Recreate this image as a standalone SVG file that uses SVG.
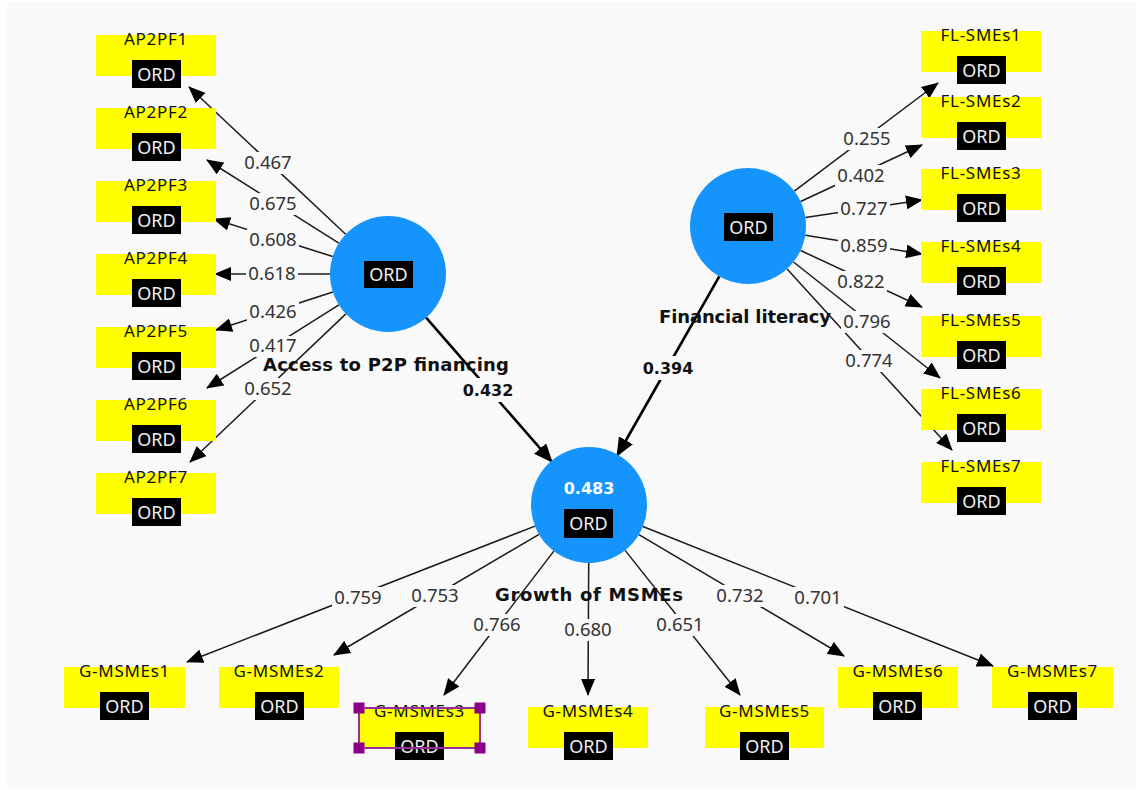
<svg xmlns="http://www.w3.org/2000/svg" width="1136" height="790" viewBox="0 0 1136 790">
<style>
.bg{fill:#f9f9f9}
.ind{fill:#ffff00}
.ordb{fill:#000}
.nm{font-family:"Noto Sans","Open Sans",sans-serif;font-size:17px;fill:#111;text-anchor:middle;letter-spacing:0.7px}
.ord{font-family:"Noto Sans","Open Sans",sans-serif;font-size:18px;fill:#eeeeee;text-anchor:middle}
.num{font-family:"Noto Sans","Open Sans",sans-serif;font-size:18.5px;fill:#333;text-anchor:middle}
.bnum{font-family:"DejaVu Sans","Noto Sans",sans-serif;font-size:16px;font-weight:bold;fill:#111;text-anchor:middle}
.cl{font-family:"DejaVu Sans","Noto Sans",sans-serif;font-size:18px;font-weight:bold;fill:#111;text-anchor:middle}
.r2{font-family:"DejaVu Sans","Noto Sans",sans-serif;font-size:16px;font-weight:bold;fill:#fff;text-anchor:middle}
.lv{fill:#1594fd}
.m{stroke:#1a1a1a;stroke-width:1.5;fill:none;marker-end:url(#ah)}
.s{stroke:#000;stroke-width:2.6;fill:none;marker-end:url(#ahs)}
.lb{fill:#f9f9f9}
.sel{fill:none;stroke:#9b2d9b;stroke-width:2}
.hd{fill:#8b008b}
</style>
<defs>
<marker id="ah" markerUnits="userSpaceOnUse" markerWidth="17" markerHeight="14" refX="16" refY="7" orient="auto"><path d="M0,0 L17,7 L0,14 z" fill="#000"/></marker>
<marker id="ahs" markerUnits="userSpaceOnUse" markerWidth="19" markerHeight="16" refX="18" refY="8" orient="auto"><path d="M0,0 L19,8 L0,16 z" fill="#000"/></marker>
</defs>
<rect x="0" y="0" width="1136" height="790" fill="#fff"/>
<rect class="bg" x="7" y="2" width="1129" height="786"/>

<g id="connectors">
<line class="m" x1="345.7" y1="234.3" x2="189" y2="87"/>
<line class="m" x1="338.9" y1="243.1" x2="207" y2="160"/>
<line class="m" x1="332.7" y1="256.5" x2="214" y2="219"/>
<line class="m" x1="330" y1="274" x2="215" y2="274"/>
<line class="m" x1="332.9" y1="292" x2="216" y2="330"/>
<line class="m" x1="338.9" y1="304.9" x2="207" y2="388"/>
<line class="m" x1="345.9" y1="313.9" x2="190" y2="462"/>

<line class="m" x1="794.3" y1="191.1" x2="938" y2="83"/>
<line class="m" x1="800.6" y1="201.5" x2="922" y2="145"/>
<line class="m" x1="805.4" y1="217.4" x2="922" y2="200"/>
<line class="m" x1="805.3" y1="235.2" x2="922" y2="254"/>
<line class="m" x1="800.6" y1="250.5" x2="922" y2="307"/>
<line class="m" x1="793.5" y1="262" x2="940" y2="378"/>
<line class="m" x1="787.1" y1="268.9" x2="952" y2="450"/>

<line class="m" x1="535" y1="526.1" x2="187" y2="662"/>
<line class="m" x1="539" y1="534.4" x2="334" y2="655"/>
<line class="m" x1="553.8" y1="551.1" x2="444" y2="695"/>
<line class="m" x1="588.7" y1="563" x2="588" y2="695"/>
<line class="m" x1="625.1" y1="550.4" x2="740" y2="695"/>
<line class="m" x1="638.9" y1="534.6" x2="844" y2="656"/>
<line class="m" x1="642.9" y1="526.5" x2="993" y2="666"/>

<line class="s" x1="426.1" y1="317.7" x2="552" y2="462"/>
<line class="s" x1="719.3" y1="276.4" x2="617" y2="456"/>

<g id="labels">
<rect class="lb" x="242" y="152" width="52" height="22"/><text class="num" x="268" y="169">0.467</text>
<rect class="lb" x="247" y="193" width="52" height="22"/><text class="num" x="273" y="210">0.675</text>
<rect class="lb" x="247" y="229" width="52" height="22"/><text class="num" x="273" y="246">0.608</text>
<rect class="lb" x="246" y="263" width="52" height="22"/><text class="num" x="272" y="280">0.618</text>
<rect class="lb" x="247" y="301" width="52" height="22"/><text class="num" x="273" y="318">0.426</text>
<rect class="lb" x="247" y="336" width="52" height="21"/><text class="num" x="273" y="352">0.417</text>
<rect class="lb" x="242" y="378" width="52" height="22"/><text class="num" x="268" y="395">0.652</text>

<rect class="lb" x="841" y="128" width="52" height="22"/><text class="num" x="867" y="145">0.255</text>
<rect class="lb" x="835" y="165" width="52" height="22"/><text class="num" x="861" y="182">0.402</text>
<rect class="lb" x="838" y="198" width="52" height="22"/><text class="num" x="864" y="215">0.727</text>
<rect class="lb" x="838" y="235" width="52" height="22"/><text class="num" x="864" y="252">0.859</text>
<rect class="lb" x="835" y="271" width="52" height="22"/><text class="num" x="861" y="288">0.822</text>
<rect class="lb" x="841" y="311" width="52" height="22"/><text class="num" x="867" y="328">0.796</text>
<rect class="lb" x="843" y="350" width="52" height="22"/><text class="num" x="869" y="367">0.774</text>

<rect class="lb" x="332" y="587" width="52" height="22"/><text class="num" x="358" y="604">0.759</text>
<rect class="lb" x="409" y="585" width="52" height="22"/><text class="num" x="435" y="602">0.753</text>
<rect class="lb" x="471" y="614" width="52" height="22"/><text class="num" x="497" y="631">0.766</text>
<rect class="lb" x="562" y="619" width="52" height="22"/><text class="num" x="588" y="636">0.680</text>
<rect class="lb" x="654" y="614" width="52" height="22"/><text class="num" x="680" y="631">0.651</text>
<rect class="lb" x="714" y="585" width="52" height="22"/><text class="num" x="740" y="602">0.732</text>
<rect class="lb" x="792" y="587" width="52" height="22"/><text class="num" x="818" y="604">0.701</text>

<rect class="lb" x="460" y="378" width="56" height="24"/><text class="bnum" x="488" y="396">0.432</text>
<rect class="lb" x="640" y="356" width="56" height="24"/><text class="bnum" x="668" y="374">0.394</text>
</g>
</g>

<g id="AP2PF1"><rect class="ind" x="96" y="35" width="120" height="41"/><text class="nm" x="156" y="45">AP2PF1</text><rect class="ordb" x="132" y="60" width="49" height="28"/><text class="ord" x="156.5" y="81">ORD</text></g>
<g id="AP2PF2"><rect class="ind" x="96" y="108" width="120" height="41"/><text class="nm" x="156" y="118">AP2PF2</text><rect class="ordb" x="132" y="133" width="49" height="28"/><text class="ord" x="156.5" y="154">ORD</text></g>
<g id="AP2PF3"><rect class="ind" x="96" y="181" width="120" height="41"/><text class="nm" x="156" y="191">AP2PF3</text><rect class="ordb" x="132" y="206" width="49" height="28"/><text class="ord" x="156.5" y="227">ORD</text></g>
<g id="AP2PF4"><rect class="ind" x="96" y="254" width="120" height="41"/><text class="nm" x="156" y="264">AP2PF4</text><rect class="ordb" x="132" y="279" width="49" height="28"/><text class="ord" x="156.5" y="300">ORD</text></g>
<g id="AP2PF5"><rect class="ind" x="96" y="327" width="120" height="41"/><text class="nm" x="156" y="337">AP2PF5</text><rect class="ordb" x="132" y="352" width="49" height="28"/><text class="ord" x="156.5" y="373">ORD</text></g>
<g id="AP2PF6"><rect class="ind" x="96" y="400" width="120" height="41"/><text class="nm" x="156" y="410">AP2PF6</text><rect class="ordb" x="132" y="425" width="49" height="28"/><text class="ord" x="156.5" y="446">ORD</text></g>
<g id="AP2PF7"><rect class="ind" x="96" y="473" width="120" height="41"/><text class="nm" x="156" y="483">AP2PF7</text><rect class="ordb" x="132" y="498" width="49" height="28"/><text class="ord" x="156.5" y="519">ORD</text></g>

<g id="FL-SMEs1"><rect class="ind" x="921" y="31" width="120" height="41"/><text class="nm" x="981" y="41">FL-SMEs1</text><rect class="ordb" x="957" y="56" width="49" height="28"/><text class="ord" x="981.5" y="77">ORD</text></g>
<g id="FL-SMEs2"><rect class="ind" x="921" y="97" width="120" height="41"/><text class="nm" x="981" y="107">FL-SMEs2</text><rect class="ordb" x="957" y="122" width="49" height="28"/><text class="ord" x="981.5" y="143">ORD</text></g>
<g id="FL-SMEs3"><rect class="ind" x="921" y="169" width="120" height="41"/><text class="nm" x="981" y="179">FL-SMEs3</text><rect class="ordb" x="957" y="194" width="49" height="28"/><text class="ord" x="981.5" y="215">ORD</text></g>
<g id="FL-SMEs4"><rect class="ind" x="921" y="242" width="120" height="41"/><text class="nm" x="981" y="252">FL-SMEs4</text><rect class="ordb" x="957" y="267" width="49" height="28"/><text class="ord" x="981.5" y="288">ORD</text></g>
<g id="FL-SMEs5"><rect class="ind" x="921" y="316" width="120" height="41"/><text class="nm" x="981" y="326">FL-SMEs5</text><rect class="ordb" x="957" y="341" width="49" height="28"/><text class="ord" x="981.5" y="362">ORD</text></g>
<g id="FL-SMEs6"><rect class="ind" x="921" y="389" width="120" height="41"/><text class="nm" x="981" y="399">FL-SMEs6</text><rect class="ordb" x="957" y="414" width="49" height="28"/><text class="ord" x="981.5" y="435">ORD</text></g>
<g id="FL-SMEs7"><rect class="ind" x="921" y="462" width="120" height="41"/><text class="nm" x="981" y="472">FL-SMEs7</text><rect class="ordb" x="957" y="487" width="49" height="28"/><text class="ord" x="981.5" y="508">ORD</text></g>

<g id="G-MSMEs1"><rect class="ind" x="64" y="667" width="121" height="41"/><text class="nm" x="124.5" y="677">G-MSMEs1</text><rect class="ordb" x="100" y="692" width="49" height="28"/><text class="ord" x="124.5" y="713">ORD</text></g>
<g id="G-MSMEs2"><rect class="ind" x="219" y="667" width="120" height="41"/><text class="nm" x="279" y="677">G-MSMEs2</text><rect class="ordb" x="255" y="692" width="49" height="28"/><text class="ord" x="279.5" y="713">ORD</text></g>
<g id="G-MSMEs3"><rect class="ind" x="359" y="707" width="121" height="41"/><text class="nm" x="419.5" y="717">G-MSMEs3</text><rect class="ordb" x="395" y="732" width="49" height="28"/><text class="ord" x="419.5" y="753">ORD</text>
<rect class="sel" x="359" y="708" width="121" height="40"/>
<rect class="hd" x="353.5" y="702.5" width="11" height="11"/><rect class="hd" x="474.5" y="702.5" width="11" height="11"/><rect class="hd" x="353.5" y="742.5" width="11" height="11"/><rect class="hd" x="474.5" y="742.5" width="11" height="11"/></g>
<g id="G-MSMEs4"><rect class="ind" x="528" y="707" width="120" height="41"/><text class="nm" x="588" y="717">G-MSMEs4</text><rect class="ordb" x="564" y="732" width="49" height="28"/><text class="ord" x="588.5" y="753">ORD</text></g>
<g id="G-MSMEs5"><rect class="ind" x="705" y="707" width="119" height="41"/><text class="nm" x="764.5" y="717">G-MSMEs5</text><rect class="ordb" x="740" y="732" width="49" height="28"/><text class="ord" x="764.5" y="753">ORD</text></g>
<g id="G-MSMEs6"><rect class="ind" x="838" y="667" width="120" height="41"/><text class="nm" x="898" y="677">G-MSMEs6</text><rect class="ordb" x="873" y="692" width="49" height="28"/><text class="ord" x="897.5" y="713">ORD</text></g>
<g id="G-MSMEs7"><rect class="ind" x="992" y="667" width="121" height="41"/><text class="nm" x="1052.5" y="677">G-MSMEs7</text><rect class="ordb" x="1028" y="692" width="49" height="28"/><text class="ord" x="1052.5" y="713">ORD</text></g>

<g id="AccessP2P"><circle class="lv" cx="388" cy="274" r="58"/><rect class="ordb" x="364" y="261" width="49" height="27"/><text class="ord" x="388.5" y="281">ORD</text><text class="cl" x="386" y="371" textLength="246" lengthAdjust="spacing">Access to P2P financing</text></g>
<g id="FinancialLiteracy"><circle class="lv" cx="748" cy="226" r="58"/><rect class="ordb" x="724" y="213" width="49" height="28"/><text class="ord" x="748.5" y="234">ORD</text><text class="cl" x="745" y="323" textLength="172" lengthAdjust="spacing">Financial literacy</text></g>
<g id="GrowthMSMEs"><circle class="lv" cx="589" cy="505" r="58"/><text class="r2" x="589" y="494">0.483</text><rect class="ordb" x="564" y="509" width="49" height="29"/><text class="ord" x="588.5" y="530">ORD</text><text class="cl" x="589" y="601" textLength="188" lengthAdjust="spacing">Growth of MSMEs</text></g>
</svg>
